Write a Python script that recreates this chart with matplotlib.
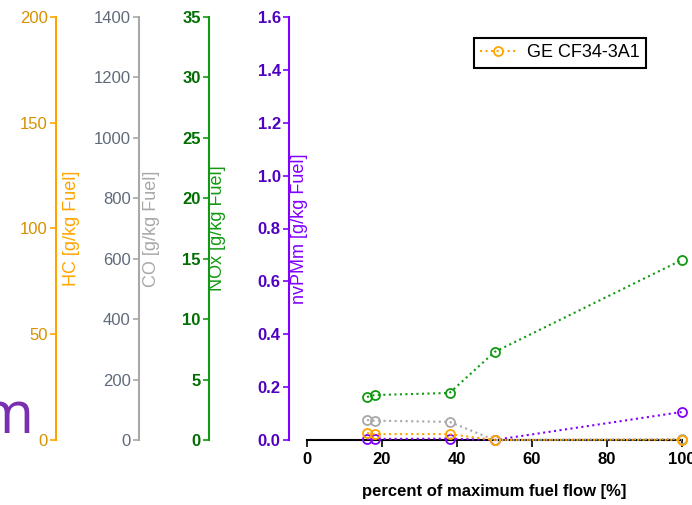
import numpy as np
import matplotlib.pyplot as plt

plt.rcParams['font.family'] = ['Liberation Sans', 'DejaVu Sans']

# fuel flow settings and emission indices
fuel_flow = [16, 18, 38, 50, 100]
hc = [3.3, 2.8, 2.8, 0.0, 0.1]
co = [66, 64, 60, 0.0, 3]
nox = [3.56, 3.72, 3.89, 7.28, 14.9]
nvpm = [0.004, 0.004, 0.005, 0.0, 0.106]

engine = 'GE CF34-3A1'

hc_col, hc_txt = '#FFA500', '#D89000'
co_col, co_txt = '#A8A8A8', '#5F6B7A'
nox_col, nox_txt = '#129912', '#006E00'
pm_col, pm_txt = '#8000FF', '#5000C0'

W, H = 692, 505
fig = plt.figure(figsize=(W / 100, H / 100), dpi=100)
left, right, top, bottom = 289, 682, 17, 440
ax = fig.add_axes([left / W, 1 - bottom / H, (right - left) / W, (bottom - top) / H])
ax_w = right - left


def frac(px):
    return (px - left) / ax_w


def style_axis(a, col, txt, lim, ticks, label, spine_x, label_x, bold):
    a.set_ylim(*lim)
    a.set_yticks(ticks)
    for s in ['top', 'right', 'bottom']:
        a.spines[s].set_visible(False)
    a.spines['left'].set_visible(True)
    a.spines['left'].set_color(col)
    a.spines['left'].set_linewidth(1.5)
    a.spines['left'].set_position(('axes', frac(spine_x)))
    a.yaxis.set_ticks_position('left')
    a.tick_params(axis='y', colors=col, labelcolor=txt, length=4, width=1.2,
                  labelsize=12, pad=2)
    for t in a.get_yticklabels():
        t.set_fontweight('bold' if bold else 'normal')
    a.text(frac(label_x), 0.5, label, transform=a.transAxes, rotation=90,
           ha='center', va='center', color=col, fontsize=13)


# nvPM mass on the main axes
ax.set_xlim(-4.8, 100)
ax.patch.set_visible(False)
style_axis(ax, pm_col, pm_txt, (0, 1.6), np.arange(0, 1.61, 0.2),
           'nvPMm [g/kg Fuel]', left, 300, True)
ax.set_yticklabels([f'{v:.1f}' for v in np.arange(0, 1.61, 0.2)], fontweight='bold')
ax.spines['bottom'].set_visible(True)
ax.spines['bottom'].set_bounds(0, 100)
ax.spines['bottom'].set_linewidth(1.5)
ax.spines['bottom'].set_color('black')
ax.set_xticks([0, 20, 40, 60, 80, 100])
ax.tick_params(axis='x', length=5, width=1.2, labelsize=12, pad=4)
for t in ax.get_xticklabels():
    t.set_fontweight('bold')
ax.set_xlabel('percent of maximum fuel flow [%]', fontsize=12, fontweight='bold')
ax.xaxis.set_label_coords(frac(494.5), -0.105)

ax_nox = ax.twinx()
ax_co = ax.twinx()
ax_hc = ax.twinx()
style_axis(ax_nox, nox_col, nox_txt, (0, 35), range(0, 36, 5),
           'NOx [g/kg Fuel]', 209, 218, True)
style_axis(ax_co, co_col, co_txt, (0, 1400), range(0, 1401, 200),
           'CO [g/kg Fuel]', 139, 151, False)
style_axis(ax_hc, hc_col, hc_txt, (0, 200), range(0, 201, 50),
           'HC [g/kg Fuel]', 56, 72, False)

mk = dict(marker='o', markerfacecolor='none', markersize=6.5, markeredgewidth=1.3,
          linestyle=':', linewidth=1.5, clip_on=False)
ax.plot(fuel_flow, nvpm, color=pm_col, zorder=5, **mk)
ax_nox.plot(fuel_flow, nox, color=nox_col, **mk)
ax_co.plot(fuel_flow, co, color=co_col, **mk)
hc_line, = ax_hc.plot(fuel_flow, hc, color=hc_col, **mk)

leg = ax_hc.legend([hc_line], [engine], loc='upper right', bbox_to_anchor=(frac(646), 1 - (38 - top) / (bottom - top)),
                   bbox_transform=ax.transAxes, fontsize=13, fancybox=False,
                   edgecolor='black', framealpha=1, borderpad=0.35,
                   handlelength=2.0, handletextpad=0.6, borderaxespad=0)
leg.get_frame().set_linewidth(1.5)

# clipped title fragment at the left edge
fig.text(34 / W, 1 - 433 / H, 'm', ha='right', va='baseline', fontsize=42,
         color='#7A2FB0', family=['Open Sans', 'DejaVu Sans'])

fig.savefig('out.png', dpi=100)
